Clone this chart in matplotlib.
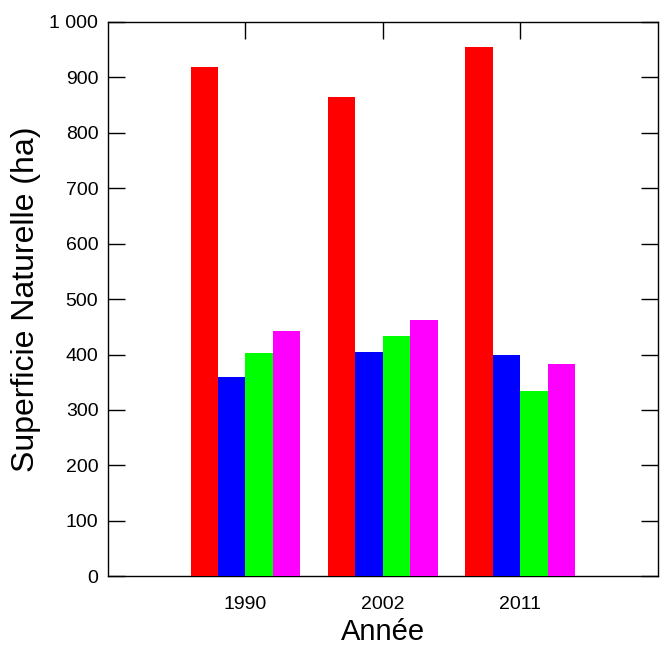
import numpy as np
import matplotlib
matplotlib.use('Agg')
import matplotlib.pyplot as plt
from matplotlib.ticker import FuncFormatter

plt.rcParams['font.family'] = ['Liberation Sans', 'DejaVu Sans']

#%% data
years = ['1990', '2002', '2011']
red_vals = [918, 864, 955]
blue_vals = [360, 404, 400]
green_vals = [402, 434, 335]
magenta_vals = [443, 463, 383]

series = [red_vals, blue_vals, green_vals, magenta_vals]
colors = ['#ff0000', '#0000ff', '#00ff00', '#ff00ff']

fig = plt.figure(figsize=(6.63, 6.46), dpi=100)
ax = fig.add_axes([0.163, 0.108, 0.829, 0.858])

x = np.arange(1, len(years) + 1)
w = 0.2
for i, (vals, c) in enumerate(zip(series, colors)):
    ax.bar(x + (i - 1.5) * w, vals, width=w, color=c, edgecolor='none', zorder=3)

ax.set_xlim(0, 4)
ax.set_ylim(0, 1000)
ax.set_xticks(x)
ax.set_xticklabels(years)
ax.set_yticks(np.arange(0, 1001, 100))
ax.yaxis.set_major_formatter(FuncFormatter(
    lambda v, p: '{:,}'.format(int(v)).replace(',', ' ')))

ax.tick_params(axis='y', direction='in', length=12, width=1, left=True,
               right=True, labelsize=14, pad=7)
ax.tick_params(axis='x', direction='in', length=12, width=1, top=True,
               bottom=False, labelsize=14, pad=14)
for s in ax.spines.values():
    s.set_linewidth(1.0)

ax.set_xlabel('Année', fontsize=21, labelpad=4)
ax.set_ylabel('Superficie Naturelle (ha)', fontsize=23, labelpad=6)

fig.savefig('out.png', dpi=100)
